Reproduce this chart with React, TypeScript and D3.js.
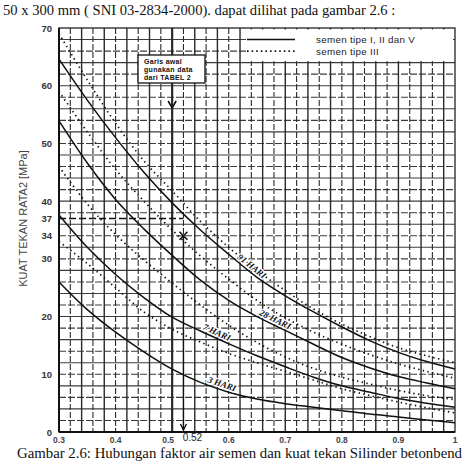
import React from "react";
import * as d3 from "d3";

const wcRatio = [0.3, 0.35, 0.4, 0.45, 0.5, 0.55, 0.6, 0.65, 0.7, 0.75, 0.8, 0.85, 0.9, 0.95, 1.0];
// semen tipe I, II dan V (solid)
const solid3 = [26.0, 21.2, 17.3, 13.9, 10.9, 8.6, 6.9, 5.7, 4.9, 4.3, 3.7, 3.1, 2.6, 2.1, 1.6];
const solid7 = [37.6, 32.0, 27.3, 23.3, 19.9, 17.5, 15.3, 13.2, 11.3, 9.5, 8.0, 6.9, 5.8, 5.0, 4.3];
const solid28 = [53.9, 46.6, 40.3, 35.2, 30.6, 26.3, 22.8, 20.0, 17.6, 15.2, 12.9, 11.1, 9.6, 8.5, 7.5];
const solid91 = [64.6, 57.5, 51.0, 45.0, 39.7, 35.0, 30.8, 26.8, 23.6, 20.8, 18.2, 15.8, 13.8, 12.2, 10.9];
// semen tipe III (dotted)
const dot3 = [33.0, 29.2, 25.0, 20.8, 17.8, 15.6, 13.6, 12.0, 10.5, 9.0, 7.5, 6.3, 5.2, 4.2, 3.3];
const dot7 = [46.0, 39.5, 34.2, 29.8, 25.8, 22.0, 18.5, 15.5, 13.0, 11.0, 9.5, 8.3, 7.2, 6.3, 5.6];
const dot28 = [59.0, 52.0, 45.5, 40.0, 35.0, 30.5, 26.5, 22.8, 19.8, 17.3, 15.2, 13.4, 11.8, 10.5, 9.3];
const dot91 = [69.0, 61.0, 53.5, 47.0, 41.8, 36.5, 32.0, 28.0, 24.5, 21.3, 18.7, 16.5, 14.6, 13.2, 12.0];

const xTicks = [0.3, 0.4, 0.5, 0.6, 0.7, 0.8, 0.9, 1];
const xTickLabels = ["0.3", "0.4", "0.5", "0.6", "0.7", "0.8", "0.9", "1"];
const yTicks = [0, 10, 20, 30, 34, 37, 40, 50, 60, 70];
const curveLabels = ["3 HARI", "7 HARI", "28 HARI", "91 HARI"];
const curveLabelAt = [0.585, 0.575, 0.678, 0.635];
const markerWc = 0.52;
const markerStrength = 34;
const startStrength = 37;

const W = 474;
const H = 473;
const x = d3.scaleLinear().domain([0.3, 1.0]).range([59, 455]);
const y = d3.scaleLinear().domain([0, 70]).range([432, 28]);

const line = d3
  .line<[number, number]>()
  .x((d) => x(d[0]))
  .y((d) => y(d[1]))
  .curve(d3.curveCatmullRom.alpha(0.5));

function pts(vals: number[]): [number, number][] {
  return wcRatio.map((w, i) => [w, vals[i]]);
}
function interp(vals: number[], w: number) {
  const i = Math.min(wcRatio.length - 2, Math.max(0, Math.floor((w - 0.3) / 0.05)));
  const t = (w - wcRatio[i]) / (wcRatio[i + 1] - wcRatio[i]);
  return vals[i] + (vals[i + 1] - vals[i]) * t;
}

export default function App() {
  const solids = [solid3, solid7, solid28, solid91];
  const dots = [dot3, dot7, dot28, dot91];
  const vGrid = d3.range(1, 35).map((i) => 0.3 + i * 0.02);
  const hGrid = d3.range(2, 70, 2);
  const sans = "'Liberation Sans', Arial, sans-serif";
  const serif = "'Liberation Serif', 'Times New Roman', serif";

  return (
    <svg
      width={W}
      height={H}
      viewBox={`0 0 ${W} ${H}`}
      style={{ position: "absolute", left: 0, top: 0, background: "#fff" }}
    >
      <rect x={0} y={0} width={W} height={H} fill="#fff" />
      <text x={3} y={15} fontFamily={serif} fontSize={14.6} fill="#111">
        50 x 300 mm ( SNI 03-2834-2000). dapat dilihat pada gambar 2.6 :
      </text>

      {/* grid */}
      {hGrid.map((v) => (
        <line
          key={"h" + v}
          x1={x(0.3)}
          x2={x(1.0)}
          y1={y(v)}
          y2={y(v)}
          stroke="#3c3c3c"
          strokeWidth={1.1}
          strokeDasharray={v % 4 === 2 ? "7,2" : undefined}
        />
      ))}
      {vGrid.map((v, i) => (
        <line
          key={"v" + i}
          x1={x(v)}
          x2={x(v)}
          y1={y(70)}
          y2={y(0)}
          stroke="#2a2a2a"
          strokeWidth={Math.abs(v - 0.5) < 1e-6 ? 2.2 : i % 2 === 0 ? 1.1 : 1.4}
          strokeDasharray={i % 2 === 0 ? "6,2" : undefined}
        />
      ))}

      {/* legend area */}
      <rect x={246} y={29.5} width={207} height={y(64) - 31} fill="#fff" />
      <line x1={247} x2={295} y1={y(68)} y2={y(68)} stroke="#111" strokeWidth={1.5} />
      <line
        x1={247}
        x2={295}
        y1={y(66)}
        y2={y(66)}
        stroke="#111"
        strokeWidth={1.6}
        strokeDasharray="1.6,3"
      />
      <text x={316} y={y(68) + 3.5} fontFamily={sans} fontSize={9.8} fill="#222" letterSpacing={0.3}>
        semen tipe I, II dan V
      </text>
      <text x={316} y={y(66) + 3.5} fontFamily={sans} fontSize={9.8} fill="#222" letterSpacing={0.3}>
        semen tipe III
      </text>

      {/* frame */}
      <rect x={x(0.3)} y={y(70)} width={x(1) - x(0.3)} height={y(0) - y(70)} fill="none" stroke="#222" strokeWidth={1.3} />
      <line x1={x(0.3)} x2={x(0.3)} y1={y(70)} y2={y(0)} stroke="#111" strokeWidth={2} />
      <line x1={x(0.3)} x2={x(1)} y1={y(0)} y2={y(0)} stroke="#111" strokeWidth={1.8} />

      {/* curves */}
      {dots.map((d, i) => (
        <path
          key={"d" + i}
          d={line(pts(d)) || ""}
          fill="none"
          stroke="#111"
          strokeWidth={1.7}
          strokeDasharray="1.4,3.4"
        />
      ))}
      {solids.map((d, i) => (
        <path key={"s" + i} d={line(pts(d)) || ""} fill="none" stroke="#111" strokeWidth={1.5} />
      ))}

      {/* curve labels */}
      {solids.map((d, i) => {
        const w = curveLabelAt[i];
        const px = x(w);
        const py = y(interp(d, w));
        const dx = x(w + 0.02) - x(w - 0.02);
        const dy = y(interp(d, w + 0.02)) - y(interp(d, w - 0.02));
        const ang = (Math.atan2(dy, dx) * 180) / Math.PI;
        return (
          <text
            key={"l" + i}
            transform={`translate(${px},${py}) rotate(${ang}) translate(0,-2.5)`}
            textAnchor="middle"
            fontFamily={serif}
            fontStyle="italic"
            fontWeight={700}
            fontSize={9}
            fill="#111"
            stroke="#fff"
            strokeWidth={2.5}
            paintOrder="stroke"
          >
            {curveLabels[i]}
          </text>
        );
      })}

      {/* marker lines */}
      <line
        x1={x(0.3)}
        x2={x(markerWc)}
        y1={y(startStrength)}
        y2={y(startStrength)}
        stroke="#111"
        strokeWidth={1.6}
        strokeDasharray="7,3"
      />
      <line x1={x(markerWc)} x2={x(markerWc)} y1={y(markerStrength)} y2={y(0) - 2} stroke="#111" strokeWidth={1.4} />
      <path
        d={`M${x(markerWc) - 4},${y(markerStrength) - 4}L${x(markerWc) + 4},${y(markerStrength) + 4}M${x(markerWc) - 4},${y(markerStrength) + 4}L${x(markerWc) + 4},${y(markerStrength) - 4}`}
        stroke="#111"
        strokeWidth={1.6}
      />
      <path
        d={`M${x(markerWc) - 3},${y(0) - 8}L${x(markerWc)},${y(0) - 2}L${x(markerWc) + 3},${y(0) - 8}`}
        fill="none"
        stroke="#111"
        strokeWidth={1.4}
      />

      {/* Garis awal box */}
      <rect x={138} y={55} width={67} height={28} fill="#fff" stroke="#111" strokeWidth={1.3} />
      <text fontFamily={sans} fontSize={7} fontWeight={700} fill="#111" letterSpacing={0.3}>
        <tspan x={144} y={64}>Garis awal</tspan>
        <tspan x={144} y={72}>gunakan data</tspan>
        <tspan x={144} y={80}>dari TABEL 2</tspan>
      </text>
      <path d={`M${x(0.5) - 4},${101}L${x(0.5)},${108}L${x(0.5) + 4},${101}`} fill="none" stroke="#111" strokeWidth={1.6} />

      {/* y ticks */}
      {yTicks.map((v) => (
        <text
          key={"yt" + v}
          x={52}
          y={y(v) + 3.5}
          textAnchor="end"
          fontFamily={sans}
          fontWeight={700}
          fontSize={9.5}
          fill="#333"
        >
          {v}
        </text>
      ))}
      <text
        transform={`translate(27,${y(37)}) rotate(-90)`}
        textAnchor="middle"
        fontFamily={sans}
        fontSize={11}
        fill="#444"
      >
        KUAT TEKAN RATA2 [MPa]
      </text>

      {/* x ticks */}
      {xTicks.map((v, i) => (
        <text
          key={"xt" + v}
          x={x(v) + (v === 0.5 ? -4 : 0)}
          y={443}
          textAnchor="middle"
          fontFamily={sans}
          fontWeight={700}
          fontSize={8.5}
          fill="#444"
        >
          {xTickLabels[i]}
        </text>
      ))}
      <text x={x(markerWc) + 9} y={441} textAnchor="middle" fontFamily={sans} fontSize={10} fill="#222">
        0.52
      </text>

      <text x={17} y={458} fontFamily={serif} fontSize={14.8} fill="#111">
        Gambar 2.6: Hubungan faktor air semen dan kuat tekan Silinder betonbend
      </text>
    </svg>
  );
}
